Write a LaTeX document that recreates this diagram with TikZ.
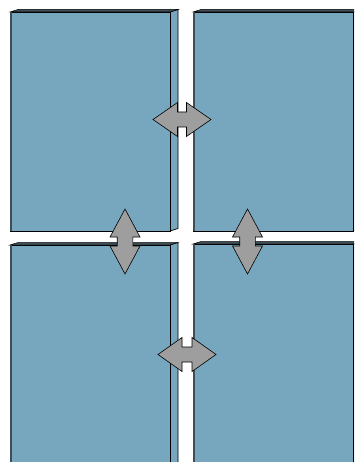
\documentclass[tikz,border=0pt]{standalone}
\definecolor{slab}{RGB}{118,167,190}
\definecolor{edgedark}{RGB}{62,78,88}
\definecolor{arrowgray}{RGB}{158,158,158}
\tikzset{
  face/.style={fill=slab, draw=black, line width=0.7pt, line join=miter},
  topface/.style={fill=edgedark, draw=black, line width=0.5pt, line join=miter},
  leftedge/.style={draw=edgedark, line width=1.6pt},
  arrowbody/.style={fill=arrowgray, draw=black, line width=0.6pt, line join=miter},
  pics/dblarrow/.style n args={4}{code={
    \draw[arrowbody]
      (-#1,0) -- (-#2,-#3) -- (-#2,-#4) -- (#2,-#4) -- (#2,-#3) -- (#1,0)
      -- (#2,#3) -- (#2,#4) -- (-#2,#4) -- (-#2,#3) -- cycle;
  }}
}
\newcommand\slabbox[4]{%
  \filldraw[face] (#3,#2) -- (#3+8,#2-2.5) -- (#3+8,#4-2.5) -- (#3,#4) -- cycle;
  \filldraw[topface] (#1,#2) -- (#1+8,#2-2.5) -- (#3+8,#2-2.5) -- (#3,#2) -- cycle;
  \filldraw[face] (#1,#2) rectangle (#3,#4);
  \draw[leftedge] (#1+0.8,#2) -- (#1+0.8,#4);
}
\begin{document}
\begin{tikzpicture}[x=1pt,y=-1pt]
\useasboundingbox (0,0) rectangle (354,462);
\fill[white] (0,0) rectangle (354,462);
\clip (0,0) rectangle (354,462);
% four slabs
\slabbox{10}{12}{170}{231}
\slabbox{193}{12}{353}{231}
\slabbox{10}{245}{170}{470}
\slabbox{193}{244}{353}{470}
% double arrows
\pic at (182,119.5) {dblarrow={29}{4.5}{17}{7.5}};
\pic at (187,354.5) {dblarrow={29}{5}{17}{7.5}};
\pic[rotate=90] at (125,241.5) {dblarrow={32.5}{4.5}{15}{7.8}};
\pic[rotate=90] at (247.5,241.5) {dblarrow={32.5}{4.5}{15}{7.8}};
\end{tikzpicture}
\end{document}
